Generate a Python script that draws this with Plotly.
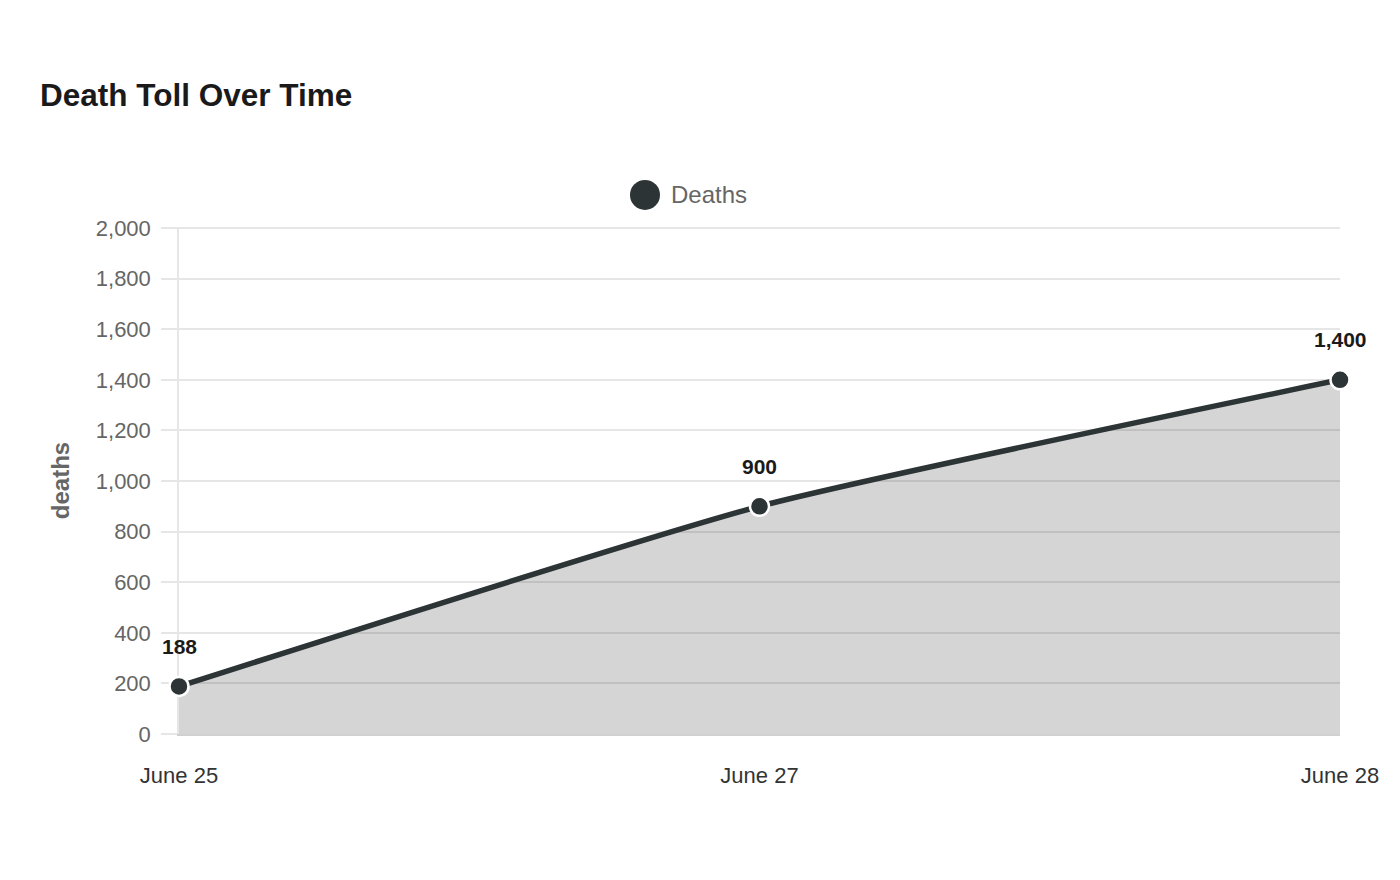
#!/usr/bin/env python3

import plotly.graph_objects as go

# data
dates = ["June 25", "June 27", "June 28"]
deaths = [188, 900, 1400]
labels = ["188", "900", "1,400"]
series_name = "Deaths"

FONT = "Liberation Sans, Arial, sans-serif"
LINE = "#2d3436"
GRID = "#e6e6e6"


def main():
    fig = go.Figure()

    fig.add_trace(
        go.Scatter(
            x=dates,
            y=deaths,
            name=series_name,
            mode="lines+markers",
            line=dict(color=LINE, width=5.5, shape="spline", smoothing=0.5),
            marker=dict(size=19, color=LINE, line=dict(color="white", width=2.5)),
            fill="tozeroy",
            fillcolor="rgba(0,0,0,0.165)",
            cliponaxis=False,
            showlegend=False,
        )
    )

    # value labels above each point
    for d, v, t in zip(dates, deaths, labels):
        fig.add_annotation(
            x=d,
            y=v,
            text=f"<b>{t}</b>",
            showarrow=False,
            yshift=40,
            font=dict(family=FONT, size=21, color="#1a1a1a"),
        )

    # legend drawn by hand (plotly caps legend marker size)
    plot_l, plot_r, plot_t, plot_b = 179, 1340, 228, 734
    pw, ph = plot_r - plot_l, plot_b - plot_t
    lx = (645 - plot_l) / pw
    ly = (plot_b - 196) / ph
    fig.add_shape(
        type="circle",
        xref="paper",
        yref="paper",
        xsizemode="pixel",
        ysizemode="pixel",
        xanchor=lx,
        yanchor=ly,
        x0=-15,
        x1=15,
        y0=-15,
        y1=15,
        fillcolor=LINE,
        line=dict(width=0),
    )
    fig.add_annotation(
        xref="paper",
        yref="paper",
        x=(669 - plot_l) / pw,
        y=ly,
        xanchor="left",
        yanchor="middle",
        text=series_name,
        showarrow=False,
        font=dict(family=FONT, size=24, color="#666666"),
    )

    fig.update_layout(
        width=1384,
        height=864,
        paper_bgcolor="white",
        plot_bgcolor="white",
        font=dict(family=FONT, color="#666666"),
        margin=dict(l=171, r=52, t=219, b=138),
        title=dict(
            text="<b>Death Toll Over Time</b>",
            x=32 / 1384,
            xanchor="left",
            y=1 - 87 / 864,
            yanchor="middle",
            font=dict(family=FONT, size=31.5, color="#1a1a1a"),
        ),
        showlegend=False,
        xaxis=dict(
            type="category",
            range=[0, 2],
            showgrid=False,
            showline=True,
            linecolor="#d0d0d0",
            linewidth=1.5,
            ticks="",
            tickfont=dict(family=FONT, size=22, color="#333333"),
            ticklabelstandoff=21,
            zeroline=False,
            layer="below traces",
        ),
        yaxis=dict(
            range=[0, 2004],
            dtick=200,
            tickformat=",",
            gridcolor=GRID,
            gridwidth=1.5,
            showline=True,
            linecolor=GRID,
            linewidth=1.5,
            ticks="outside",
            ticklen=16,
            tickcolor=GRID,
            tickwidth=1.5,
            tickfont=dict(family=FONT, size=22, color="#666666"),
            ticklabelstandoff=6,
            zeroline=False,
            layer="below traces",
            title=dict(
                text="<b>deaths</b>",
                font=dict(family=FONT, size=24, color="#666666"),
                standoff=19,
            ),
        ),
    )

    fig.write_html("out.html")


if __name__ == "__main__":
    main()
